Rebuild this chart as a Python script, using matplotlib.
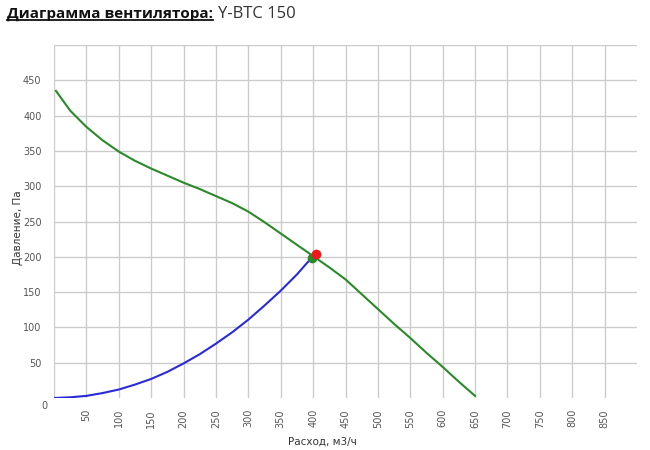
import matplotlib
matplotlib.use("Agg")
import matplotlib.pyplot as plt
from matplotlib.lines import Line2D

# Fan curve (Расход, м3/ч -> Давление, Па)
fan_flow = [3, 25, 50, 75, 100, 125, 150, 175, 200, 225, 250, 275, 300, 325,
            350, 375, 400, 425, 450, 475, 500, 525, 550, 575, 600, 625, 650]
fan_pressure = [435, 407, 384, 365, 349, 336, 325, 315, 305, 296, 286, 276, 264, 249,
                233, 217, 201, 185, 168, 147, 126, 105, 85, 64, 44, 23, 3]

# System curve
sys_flow = [0, 25, 50, 75, 100, 125, 150, 175, 200, 225, 250, 275, 300, 325, 350, 375, 398]
sys_pressure = [0, 1, 3, 7, 12, 19, 27, 37, 49, 62, 77, 93, 111, 131, 152, 175, 199]

# Working points
sys_end = (398, 199)
work_point = (404, 204)

x_ticks = [50, 100, 150, 200, 250, 300, 350, 400, 450, 500, 550, 600, 650, 700, 750, 800, 850]
y_ticks = [50, 100, 150, 200, 250, 300, 350, 400, 450]

fig = plt.figure(figsize=(6.5, 4.5), dpi=100)
ax = fig.add_axes([54 / 650, 1 - 398 / 450, (637 - 54) / 650, (398 - 45) / 450])

ax.set_xlim(0, 900)
ax.set_ylim(0, 500)

grid_color = "#cccccc"
for x in [0] + x_ticks:
    ax.axvline(x, color=grid_color, linewidth=1, zorder=0)
for y in y_ticks + [500]:
    ax.axhline(y, color=grid_color, linewidth=1, zorder=0)

for s in ax.spines.values():
    s.set_visible(False)

ax.plot(fan_flow, fan_pressure, color="#2a8a2a", linewidth=1.5, zorder=3)
ax.plot(sys_flow, sys_pressure, color="#2a2ad8", linewidth=1.5, zorder=3)
ax.plot(*sys_end, "o", color="#2a8a2a", markersize=6, zorder=4)
ax.plot(*work_point, "o", color="#ee1a1a", markersize=6, zorder=5)

ax.set_xticks(x_ticks)
ax.set_xticklabels([str(v) for v in x_ticks], rotation=90)
ax.set_yticks(y_ticks)
ax.set_yticklabels([str(v) for v in y_ticks])
ax.tick_params(length=0, labelsize=7, colors="#555555", pad=8)
ax.tick_params(axis="y", pad=9)

ax.text(-0.012, -0.022, "0", transform=ax.transAxes, ha="right", va="center",
        fontsize=7, color="#555555")

fig.text(322 / 650, 1 - 442 / 450, "Расход, м3/ч", ha="center", va="center",
         fontsize=7.5, color="#333333")
fig.text(18 / 650, 1 - 228 / 450, "Давление, Па", ha="center", va="center",
         rotation=90, fontsize=7.5, color="#333333")

# Title: bold underlined part + regular part
title_y = 1 - 14 / 450
t1 = fig.text(7 / 650, title_y, "Диаграмма вентилятора:", ha="left", va="center",
              fontsize=11, fontweight="bold", family="Open Sans", color="#111111")
renderer = fig.canvas.get_renderer()
bb = t1.get_window_extent(renderer=renderer).transformed(fig.transFigure.inverted())
fig.add_artist(Line2D([bb.x0, bb.x1], [bb.y0 + 0.002, bb.y0 + 0.002],
                      transform=fig.transFigure, color="#111111", linewidth=1.3))
fig.text(bb.x1 + 5 / 650, title_y, "Y-BTC 150", ha="left", va="center",
         fontsize=12, family="Open Sans", color="#333333")

fig.savefig("out.png", dpi=100)
